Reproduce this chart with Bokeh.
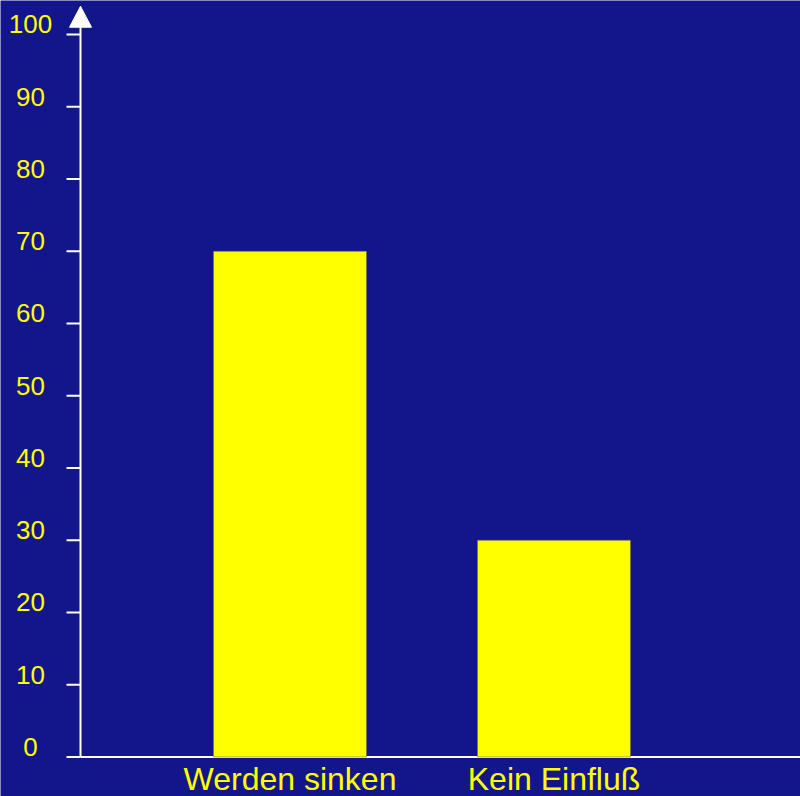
from bokeh.plotting import figure
from bokeh.models import Range1d
from bokeh.core.properties import value
from bokeh.embed import file_html
from bokeh.resources import INLINE

# Survey answers (percent)
categories = ["Werden sinken", "Kein Einfluß"]
values = [70, 30]
y_ticks = [0, 10, 20, 30, 40, 50, 60, 70, 80, 90, 100]

NAVY = "#13168a"
YELLOW = "#ffff00"
FONT = value("Liberation Sans")

W, H = 800, 796
# data ranges spanning the whole canvas
X_START, X_END = -1.0966, 1.9337
Y_START, Y_END = -5.467, 104.7
PX_X = W / (X_END - X_START)      # pixels per x unit
PX_Y = H / (Y_END - Y_START)      # pixels per y unit
X_AXIS = X_START + 80 / PX_X      # position of the vertical axis
TICK = 14 / PX_X                  # tick length
AXIS_TOP = 101                    # where the vertical axis line stops

x_pos = list(range(len(categories)))

p = figure(width=W, height=H, output_backend="svg", toolbar_location=None,
           x_range=Range1d(X_START, X_END), y_range=Range1d(Y_START, Y_END),
           min_border=0)
p.axis.visible = False
p.grid.visible = False
p.background_fill_color = NAVY
p.border_fill_color = NAVY
p.outline_line_color = None

# horizontal base line
p.segment(x0=[X_AXIS], y0=[0], x1=[X_END], y1=[0], line_color="white",
          line_width=2)

# bars
p.vbar(x=x_pos, top=values, width=0.58, fill_color=YELLOW,
       line_color="#55557a", line_width=0.5)

# vertical axis with outside ticks and an arrow head
p.segment(x0=[X_AXIS], y0=[0], x1=[X_AXIS], y1=[AXIS_TOP], line_color="white",
          line_width=2)
p.segment(x0=[X_AXIS - TICK] * len(y_ticks), y0=y_ticks,
          x1=[X_AXIS] * len(y_ticks), y1=y_ticks, line_color="white",
          line_width=2)
head_w = 11 / PX_X
p.patch(x=[X_AXIS - head_w, X_AXIS + head_w, X_AXIS],
        y=[AXIS_TOP, AXIS_TOP, AXIS_TOP + 21 / PX_Y],
        fill_color="white", line_color="white", line_width=1)

# tick labels, sitting just above their ticks
p.text(x=[X_AXIS] * len(y_ticks), y=y_ticks, text=[str(t) for t in y_ticks],
       x_offset=-50, y_offset=-10, text_align="center",
       text_baseline="middle", text_color=YELLOW, text_font=FONT,
       text_font_size=value("26px"))

# category labels
p.text(x=x_pos, y=[0] * len(x_pos), text=categories, y_offset=22,
       text_align="center", text_baseline="middle", text_color=YELLOW,
       text_font=FONT, text_font_size=value("32px"))

open("out.html", "w").write(file_html(p, INLINE))
